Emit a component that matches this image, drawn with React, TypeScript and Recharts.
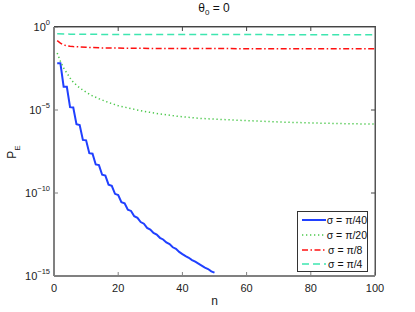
import { LineChart, Line, XAxis, YAxis, ReferenceLine, CartesianGrid } from "recharts";

// log10(P_E)
const nBlue = Array.from({ length: 50 }, (_, i) => i + 1);
const blueExp = [
  -2.19, -2.19, -3.6, -3.6, -4.83, -4.85, -5.85, -5.9, -6.8, -6.83,
  -7.6, -7.63, -8.28, -8.32, -8.9, -8.95, -9.5, -9.57, -10.05, -10.12,
  -10.55, -10.62, -11.0, -11.08, -11.4, -11.5, -11.75, -11.85, -12.1, -12.2,
  -12.4, -12.5, -12.7, -12.8, -12.98, -13.08, -13.27, -13.36, -13.55, -13.68,
  -13.8, -13.9, -14.04, -14.14, -14.26, -14.38, -14.5, -14.58, -14.72, -14.8,
];

const nGreen = [1, 2, 3, 4, 5, 6, 8, 10, 12, 14, 17, 20, 24, 28, 33, 39, 45, 52, 60, 70, 80, 90, 100];
const greenExp = [
  -1.57, -2.07, -2.47, -2.77, -3.07, -3.33, -3.67, -3.93, -4.15, -4.32, -4.55, -4.74,
  -4.92, -5.08, -5.24, -5.39, -5.5, -5.57, -5.64, -5.72, -5.78, -5.82, -5.85,
];

const nRed = [1, 2, 3, 4, 5, 6, 8, 10, 15, 20, 30, 50, 75, 100];
const redExp = [-0.82, -0.97, -1.08, -1.13, -1.16, -1.18, -1.2, -1.22, -1.26, -1.27, -1.29, -1.3, -1.31, -1.31];

const nCyan = [1, 5, 10, 20, 40, 70, 100];
const cyanExp = [-0.41, -0.43, -0.44, -0.45, -0.45, -0.46, -0.46];

const xTicks = [0, 20, 40, 60, 80, 100];
const yTicks = [0, -5, -10, -15];
const X_MAX = 100;
const Y_TOP = 0;

const toRows = (ns: number[], vs: number[]) => ns.map((n, i) => ({ n, v: vs[i] }));

const series = [
  { name: "σ = π/40", data: toRows(nBlue, blueExp), color: "#2040ff", width: 2, dash: undefined },
  { name: "σ = π/20", data: toRows(nGreen, greenExp), color: "#4cc84c", width: 1.5, dash: "1.3 2.7" },
  { name: "σ = π/8", data: toRows(nRed, redExp), color: "#ff1010", width: 1.5, dash: "6 2.5 1.5 2.5" },
  { name: "σ = π/4", data: toRows(nCyan, cyanExp), color: "#3ee6b0", width: 1.5, dash: "7 4" },
];

const FONT = "'Liberation Sans', Arial, sans-serif";
const AXIS = "#808080";

// plot box (matches chart margins below)
const M = { top: 27, right: 40, left: 54, bottom: 36 };

const YTick = (props: any) => {
  const { x, y, payload } = props;
  const e = payload.value;
  const exp = e === 0 ? "0" : "\u2212" + Math.abs(e);
  return (
    <text x={x} y={y + 4} textAnchor="end" fontSize={11} fill="#222" fontFamily={FONT}>
      10
      <tspan dy={-6} fontSize={7.5}>{exp}</tspan>
    </text>
  );
};

const LegendBox = () => (
  <div
    style={{
      position: "absolute",
      left: 297,
      top: 211,
      width: 71,
      height: 61,
      border: "1px solid #333",
      background: "#fff",
      fontFamily: FONT,
      fontSize: 10.5,
      color: "#111",
      paddingTop: 1,
      boxSizing: "border-box",
      zIndex: 3,
    }}
  >
    {series.map((s) => (
      <div key={s.name} style={{ display: "flex", alignItems: "center", height: 14.7 }}>
        <svg width={27} height={8} style={{ marginLeft: 3 }}>
          <line x1={1} x2={25} y1={4} y2={4} stroke={s.color} strokeWidth={s.width} strokeDasharray={s.dash} />
        </svg>
        <span style={{ whiteSpace: "nowrap" }}>{s.name}</span>
      </div>
    ))}
  </div>
);

export default function App() {
  return (
    <div style={{ position: "absolute", left: 0, top: 0, width: 415, height: 312, background: "#fff" }}>
      <LineChart width={415} height={312} margin={{ top: M.top, right: M.right, left: 0, bottom: 0 }}>
        {/* top and right edges of the box */}
        <CartesianGrid
          stroke="#555"
          horizontalValues={[Y_TOP]}
          verticalValues={[X_MAX]}
        />
        <XAxis
          type="number"
          dataKey="n"
          domain={[0, X_MAX]}
          ticks={xTicks}
          allowDataOverflow
          height={M.bottom}
          stroke={AXIS}
          axisLine={{ stroke: AXIS, strokeWidth: 2 }}
          tickSize={-4}
          tickMargin={12}
          tick={{ fontSize: 11, fill: "#222", fontFamily: FONT }}
          label={{ value: "n", position: "insideBottom", offset: 7, fontSize: 12, fill: "#222", fontFamily: FONT }}
        />
        <YAxis
          type="number"
          domain={[-15, Y_TOP]}
          ticks={yTicks}
          allowDataOverflow
          width={M.left}
          stroke={AXIS}
          axisLine={{ stroke: AXIS, strokeWidth: 2 }}
          tickSize={-4}
          tickMargin={8}
          tick={YTick}
          label={{
            content: () => (
              <text x={16} y={152} transform="rotate(-90 16 152)" textAnchor="middle" fontSize={12} fill="#222" fontFamily={FONT}>
                P<tspan dy={4} fontSize={8}>E</tspan>
              </text>
            ),
          }}
        />
        {/* inward ticks on the top and right edges */}
        {xTicks.slice(1, -1).map((t) => (
          <ReferenceLine
            key={"tx" + t}
            ifOverflow="visible"
            segment={[{ x: t, y: Y_TOP }, { x: t, y: Y_TOP - 0.24 }]}
            stroke="#444"
            strokeWidth={1}
          />
        ))}
        {yTicks.slice(1, -1).map((t) => (
          <ReferenceLine
            key={"ty" + t}
            ifOverflow="visible"
            segment={[{ x: X_MAX, y: t }, { x: X_MAX - 1.25, y: t }]}
            stroke="#444"
            strokeWidth={1}
          />
        ))}
        {series.map((s) => (
          <Line
            key={s.name}
            data={s.data}
            dataKey="v"
            name={s.name}
            stroke={s.color}
            strokeWidth={s.width}
            strokeDasharray={s.dash}
            dot={false}
            isAnimationActive={false}
          />
        ))}
      </LineChart>
      <div
        style={{
          position: "absolute",
          left: M.left,
          top: M.top - 1,
          width: 415 - M.left - M.right + 1,
          height: 312 - M.top - M.bottom,
          borderTop: "1px solid #444",
          borderRight: "1px solid #555",
          boxSizing: "border-box",
          pointerEvents: "none",
          zIndex: 2,
        }}
      />
      <div
        style={{
          position: "absolute",
          left: 0,
          width: 428,
          top: 1,
          textAlign: "center",
          fontFamily: FONT,
          fontSize: 12,
          color: "#111",
          zIndex: 2,
        }}
      >
        θ<sub style={{ fontSize: 8 }}>0</sub> = 0
      </div>
      <LegendBox />
    </div>
  );
}
